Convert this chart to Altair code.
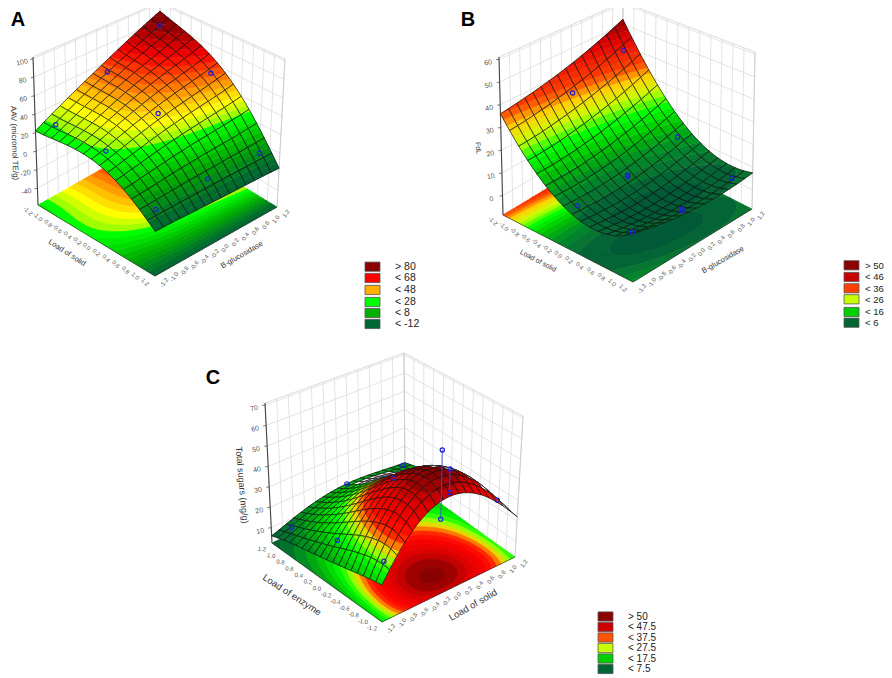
import numpy as np
import altair as alt

# ---------- values ----------
NODES = [-1.2, -0.8, -0.4, 0.0, 0.4, 0.8, 1.2]

# rows: left floor axis ascending, columns: right floor axis ascending
Z_A = [
    [22, 34, 45, 57, 68, 80, 91],
    [24, 33, 45, 55, 64, 74, 83],
    [25, 33, 43, 51, 58, 66, 73],
    [23, 29, 37, 43, 49, 54, 60],
    [15, 19, 24, 28, 31, 35, 39],
    [2, 4, 6, 8, 9.5, 11, 13],
    [-14, -14, -14.5, -15, -15, -15.5, -16],
]
Z_B = [
    [36, 37.5, 39, 41.5, 44.5, 48, 52.5],
    [23, 23.5, 25, 26.5, 29, 32, 36],
    [13.5, 13.5, 14, 15.5, 17.5, 20, 23],
    [7.5, 7, 7, 7.5, 9, 11, 13.5],
    [5, 4, 3.5, 3.5, 4.5, 6, 8],
    [6, 4.5, 3.5, 3, 3.5, 4.5, 6],
    [11, 9, 7.5, 6.5, 6, 6.5, 7.5],
]
Z_C = [
    [18.5, 33, 42, 45.5, 42.5, 34, 22],
    [17, 35, 46.5, 51, 47.5, 38, 23],
    [15, 32, 43, 47.5, 44.5, 35.5, 22],
    [13, 25.5, 34.5, 38.5, 36.5, 30, 20],
    [11, 19.5, 26.5, 29.5, 29, 24, 18],
    [9, 14, 18.5, 20.5, 20, 17.5, 14],
    [6, 9.5, 12.5, 14, 14, 12.5, 11],
]

DOTS_A_L = [-1, -1, -1, 0, 0, 0, 1, 1, 1]
DOTS_A_R = [-1, 0, 1, -1, 0, 1, -1, 0, 1]
DOTS_A_Z = [29, 59.5, 85, 29, 42, 59, -3, 1, 0]

DOTS_B_L = [-1, -1, 0, 0, 0, 0, 1, 1, 1, 1]
DOTS_B_R = [0, 1, -1, 0, 0, 1, -1, 0, 0, 1]
DOTS_B_Z = [33.7, 41.8, 7, 7.3, 8, 12.3, 7, 3.8, 4.6, 5.4]

DOTS_C_L = [1, 1, 1, 0, 0, 0, 0, -1, -1, -1, -1]
DOTS_C_R = [-1, 0, 1, -1, 0, 1, 1, -1, 0, 0, 1]
DOTS_C_Z = [10.7, 19.5, 15.7, 19.5, 37.5, 30, 18, 24, 64, 32, 29.5]
STEMS_C = [(-1, 0, 64, 32), (0, 1, 30, 18)]

LEG_A = ["> 80", "< 68", "< 48", "< 28", "< 8", "< -12"]
LEG_B = ["> 50", "< 46", "< 36", "< 26", "< 16", "< 6"]
LEG_C = ["> 50", "< 47.5", "< 37.5", "< 27.5", "< 17.5", "< 7.5"]
LEG_COL_A = ["#8b0000", "#ff0000", "#ffb000", "#00ff00", "#00b000", "#006633"]
LEG_COL_B = ["#8b0000", "#c80000", "#ff4000", "#c8ff00", "#00d000", "#006633"]
LEG_COL_C = ["#8b0000", "#d00000", "#ff5500", "#c8ff00", "#00d000", "#006633"]

TICKS_FLOOR = [-1.2, -1.0, -0.8, -0.6, -0.4, -0.2, 0.0, 0.2, 0.4, 0.6, 0.8, 1.0, 1.2]

PANELS = [
    dict(letter="A", letter_at=(18, 20), grid=Z_A, left_up=False, zlo=-58, zhi=102, cells=15, edge_on=0,
         F=(155, 276), R=(277, 207), L=(38, 205), B=(160, 136),
         TF=(156, 114), TR=(285, 59), TL=(33, 57), TB=(160, 2),
         zticks=[100, 80, 60, 40, 20, 0, -20, -40],
         stops=[(-12, "#006633"), (8, "#00b000"), (26, "#00ff00"), (30, "#a0ff00"), (38, "#ffff00"), (48, "#ffb000"), (68, "#ff0000"), (84, "#8b0000")],
         band=(-16, 4, 28),
         ztitle=("AAV (micromol TE/g)", 14, 143, 88, 8), ltitle=("Load of solid", 67, 253, 33, 7.5), rtitle=("B-glucosidase", 242, 255, -30, 7.5),
         tsize=6, lang=45, dots=(DOTS_A_L, DOTS_A_R, DOTS_A_Z), stems=[],
         leg=(LEG_A, LEG_COL_A, 365, 380, 395, [266.7, 278, 290, 302, 313, 324], 10.5)),
    dict(letter="B", letter_at=(468, 20), grid=Z_B, left_up=False, zlo=-8.5, zhi=61, cells=15, edge_on=0,
         F=(633, 282), R=(752, 209), L=(503, 215), B=(622, 143),
         TF=(634, 109), TR=(755, 52), TL=(499, 57), TB=(623, 2),
         zticks=[60, 50, 40, 30, 20, 10, 0],
         stops=[(4, "#005a38"), (6, "#0a7035"), (10, "#008a2a"), (16, "#00c800"), (21, "#00ff00"), (26, "#c8ff00"), (31, "#ffd000"), (36, "#ff4000"), (46, "#e00000"), (53, "#8b0000")],
         band=(2, 2, 28),
         ztitle=("FdL", 478, 148, 85, 7), ltitle=("Load of solid", 538, 261, 28, 7), rtitle=("B-glucosidase", 723, 260, -30, 7.5),
         tsize=6, lang=45, dots=(DOTS_B_L, DOTS_B_R, DOTS_B_Z), stems=[],
         leg=(LEG_B, LEG_COL_B, 844, 859, 865, [265.3, 277, 288.3, 299.3, 312, 322.7], 9.5)),
    dict(letter="C", letter_at=(213, 378), grid=Z_C, left_up=True, zlo=2.5, zhi=71, cells=18, edge_on=0.35,
         F=(382, 622), R=(515, 557), L=(272, 543), B=(405, 478),
         TF=(382, 464), TR=(523, 416), TL=(265, 403), TB=(404, 353),
         zticks=[70, 60, 50, 40, 30, 20, 10],
         stops=[(7.5, "#006633"), (17.5, "#00d000"), (22.5, "#00ff00"), (27.5, "#c8ff00"), (30, "#ffb000"), (33, "#ff3000"), (37.5, "#ff0000"), (45, "#d80000"), (50, "#8b0000")],
         band=(0, 2.5, 23),
         ztitle=("Total sugars (mg/g)", 242, 485, 85, 9), ltitle=("Load of enzyme", 292, 595, 33, 9.5), rtitle=("Load of solid", 473, 605, -30, 9.5),
         tsize=6, lang=8, dots=(DOTS_C_L, DOTS_C_R, DOTS_C_Z), stems=STEMS_C,
         leg=(LEG_C, LEG_COL_C, 598, 613, 628, [616.5, 627, 637.5, 648, 658.5, 669], 10)),
]


# ---------- drawing helpers (3-D view -> page) ----------
def hex2rgb(h):
    return np.array([int(h[i:i + 2], 16) for i in (1, 3, 5)], float)


def band_color(stops, z):
    xs = [s[0] for s in stops]
    cols = np.array([hex2rgb(s[1]) for s in stops])
    rgb = [np.interp(z, xs, cols[:, k]) for k in range(3)]
    return "#%02x%02x%02x" % tuple(int(round(v)) for v in rgb)


def view(p, t, w, z):
    zn = (z - p["zlo"]) / (p["zhi"] - p["zlo"])
    F, R, L, B = [np.array(p[k], float) for k in ("F", "R", "L", "B")]
    TF, TR, TL, TB = [np.array(p[k], float) for k in ("TF", "TR", "TL", "TB")]
    bot = (1 - t) * (1 - w) * F + t * (1 - w) * R + (1 - t) * w * L + t * w * B
    top = (1 - t) * (1 - w) * TF + t * (1 - w) * TR + (1 - t) * w * TL + t * w * TB
    return bot * (1 - zn) + top * zn


def tw(p, left, right):
    t = (right + 1.2) / 2.4
    w = (left + 1.2) / 2.4 if p["left_up"] else (1.2 - left) / 2.4
    return t, w


def smooth_grid(p, steps):
    """Drawing mesh through the table values (least-squares tensor polynomial)."""
    nodes = np.array(NODES)
    V = np.polynomial.polynomial.polyvander(nodes, 4)
    P = np.linalg.pinv(V)
    C = P @ np.array(p["grid"], float) @ P.T
    ws = np.linspace(0, 1, steps + 1)
    ts = np.linspace(0, 1, steps + 1)
    lefts = (2 * ws - 1) * 1.2 if p["left_up"] else (1 - 2 * ws) * 1.2
    rights = (2 * ts - 1) * 1.2
    VL = np.polynomial.polynomial.polyvander(lefts, 4)
    VR = np.polynomial.polynomial.polyvander(rights, 4)
    return ts, ws, VL @ C @ VR.T  # index [w, t]


def clip(poly, level, above):
    out = []
    n = len(poly)
    for i in range(n):
        a, b = poly[i], poly[(i + 1) % n]
        ina = a[2] >= level if above else a[2] <= level
        inb = b[2] >= level if above else b[2] <= level
        if ina:
            out.append(a)
        if ina != inb:
            f = (level - a[2]) / (b[2] - a[2])
            out.append((a[0] + f * (b[0] - a[0]), a[1] + f * (b[1] - a[1]), level))
    return out


def split_bands(tri, p, into):
    lo, step, count = p["band"]
    zs = [v[2] for v in tri]
    for k in range(count):
        low = lo + k * step if k > 0 else -1e6
        high = lo + (k + 1) * step if k < count - 1 else 1e6
        if max(zs) < low or min(zs) > high:
            continue
        q = clip(clip(tri, low, True), high, False)
        if len(q) >= 3:
            ring = [[round(float(v[0]), 2), round(float(v[1]), 2)] for v in q]
            ring.append(ring[0])
            into.setdefault(k, []).append([ring])


def band_mid(p, k):
    lo, step, _ = p["band"]
    return lo + (k + 0.5) * step


def feat(geom_type, coords, fill, stroke, sw):
    return {"type": "Feature", "geometry": {"type": geom_type, "coordinates": coords},
            "fillc": fill, "strokec": stroke, "sw": sw}


def line(pts, stroke, sw):
    return feat("LineString", [[round(float(a), 2), round(float(b), 2)] for a, b in pts], "transparent", stroke, sw)


features, texts, dots_rows, top_lines = [], [], [], []

for p in PANELS:
    # walls
    for u in TICKS_FLOOR:
        f = (u + 1.2) / 2.4
        features.append(line([view(p, 1, f, p["zlo"]), view(p, 1, f, p["zhi"])], "#dcdcdc", 0.8))
        features.append(line([view(p, f, 1, p["zlo"]), view(p, f, 1, p["zhi"])], "#dcdcdc", 0.8))
    for z in p["zticks"]:
        features.append(line([view(p, 0, 1, z), view(p, 1, 1, z), view(p, 1, 0, z)], "#dcdcdc", 0.8))
    for a, b in [((0, 1), (1, 1)), ((1, 1), (1, 0))]:
        features.append(line([view(p, a[0], a[1], p["zhi"]), view(p, b[0], b[1], p["zhi"])], "#d0d0d0", 0.8))
    features.append(line([view(p, 1, 1, p["zlo"]), view(p, 1, 1, p["zhi"])], "#c8c8c8", 0.8))
    features.append(line([view(p, 1, 0, p["zlo"]), view(p, 1, 0, p["zhi"])], "#c8c8c8", 0.8))

    # floor contour
    ts, ws, Zf = smooth_grid(p, 44)
    bands = {}
    for i in range(len(ws) - 1):
        for j in range(len(ts) - 1):
            c = [(i, j), (i + 1, j), (i + 1, j + 1), (i, j + 1)]
            v = []
            for a, b in c:
                xy = view(p, ts[b], ws[a], p["zlo"])
                v.append((xy[0], xy[1], Zf[a, b]))
            split_bands([v[0], v[1], v[2]], p, bands)
            split_bands([v[0], v[2], v[3]], p, bands)
    for k, polys in sorted(bands.items()):
        col = band_color(p["stops"], band_mid(p, k))
        features.append(feat("MultiPolygon", polys, col, col, 0.5))

    # floor edges and z axis
    features.append(line([view(p, 0, 1, p["zlo"]), view(p, 0, 0, p["zlo"]), view(p, 1, 0, p["zlo"])], "#333333", 0.7))
    features.append(line([view(p, 0, 1, p["zlo"]), view(p, 0, 1, p["zhi"])], "#444444", 1.1))
    for z in p["zticks"]:
        q = view(p, 0, 1, z)
        features.append(line([q, q + np.array([-3, 0.5])], "#444444", 0.7))
        texts.append(dict(lon=float(q[0] - 11), lat=float(q[1] + 3.5), txt=str(z), ang=-12, size=7, col="#555555", wt="normal"))

    # floor tick labels
    for u in TICKS_FLOOR:
        f = (u + 1.2) / 2.4
        lab = "%.1f" % u
        q = view(p, f, 0, p["zlo"])
        texts.append(dict(lon=float(q[0] + 9), lat=float(q[1] + 6.5), txt=lab, ang=-55, size=p["tsize"], col="#555555", wt="normal"))
        w = f if p["left_up"] else 1 - f
        q = view(p, 0, w, p["zlo"])
        texts.append(dict(lon=float(q[0] - 10), lat=float(q[1] + 6), txt=lab, ang=p["lang"], size=p["tsize"], col="#555555", wt="normal"))

    for tit in (p["ztitle"], p["ltitle"], p["rtitle"]):
        texts.append(dict(lon=tit[1], lat=tit[2], txt=tit[0], ang=tit[3], size=tit[4], col="#333333", wt="normal"))
    texts.append(dict(lon=p["letter_at"][0], lat=p["letter_at"][1], txt=p["letter"], ang=0, size=20, col="#000000", wt="bold"))

    # surface, far cells first
    n = p["cells"]
    sub = 2
    ts, ws, Z = smooth_grid(p, n * sub)
    PX = np.zeros(Z.shape + (2,))
    for a in range(Z.shape[0]):
        for b in range(Z.shape[1]):
            PX[a, b] = view(p, ts[b], ws[a], Z[a, b])
    floor_v = np.array(p["L"], float) - np.array(p["R"], float)
    floor_w = np.array(p["B"], float) - np.array(p["F"], float)
    ref_cross = floor_v[0] * floor_w[1] - floor_v[1] * floor_w[0]
    ref_sign = np.sign(ref_cross)
    order = sorted(((i, j) for i in range(n) for j in range(n)), key=lambda c: -(c[0] + c[1]))
    for i, j in order:
        a0, a1, b0, b1 = i * sub, (i + 1) * sub, j * sub, (j + 1) * sub
        A, Bq, C, D = PX[a0, b0], PX[a0, b1], PX[a1, b1], PX[a1, b0]
        d1, d2 = D - Bq, C - A
        area = d1[0] * d2[1] - d1[1] * d2[0]
        rel = area * ref_sign / (abs(ref_cross) / n ** 2)
        under = rel <= 0 or (rel < p["edge_on"] and j / n > 0.55)
        ring_idx = ([(a0, b) for b in range(b0, b1 + 1)] + [(a, b1) for a in range(a0 + 1, a1 + 1)]
                    + [(a1, b) for b in range(b1 - 1, b0 - 1, -1)] + [(a, b0) for a in range(a1 - 1, a0, -1)])
        outline = [[round(float(PX[a, b][0]), 2), round(float(PX[a, b][1]), 2)] for a, b in ring_idx]
        outline.append(outline[0])
        if under:
            features.append(feat("Polygon", [outline], "#ffffff", "#111111", 0.7))
            continue
        cellb = {}
        for a in range(a0, a1):
            for b in range(b0, b1):
                v = [(PX[x, y][0], PX[x, y][1], Z[x, y]) for x, y in [(a, b), (a + 1, b), (a + 1, b + 1), (a, b + 1)]]
                split_bands([v[0], v[1], v[2]], p, cellb)
                split_bands([v[0], v[2], v[3]], p, cellb)
        for k, polys in sorted(cellb.items()):
            col = band_color(p["stops"], band_mid(p, k))
            features.append(feat("MultiPolygon", polys, col, col, 0.35))
        features.append(feat("Polygon", [outline], "transparent", "#111111", 0.7))

    # design points and stems
    for r, c, z in zip(*p["dots"]):
        t, w = tw(p, r, c)
        q = view(p, t, w, z)
        dots_rows.append(dict(lon=float(q[0]), lat=float(q[1])))
    for r, c, z1, z2 in p["stems"]:
        t, w = tw(p, r, c)
        top_lines.append(line([view(p, t, w, z1), view(p, t, w, z2)], "#4a4ae0", 0.9))

    # legend
    labs, cols, x0, x1, xt, ys, lsize = p["leg"]
    for lab, col, y in zip(labs, cols, ys):
        ring = [[x0, y - 4.6], [x1, y - 4.6], [x1, y + 4.6], [x0, y + 4.6], [x0, y - 4.6]]
        top_lines.append(feat("Polygon", [ring], col, "#555555", 0.8))
        texts.append(dict(lon=xt, lat=y + 0.3, txt=lab, ang=0, size=lsize, col="#222222", wt="normal", al="left"))

PROJ = dict(type="identity", scale=1, translate=[-8, -8])


def shapes(rows):
    return (alt.Chart(alt.Data(values=rows)).mark_geoshape().encode(
        fill=alt.Fill("fillc:N", scale=None),
        stroke=alt.Stroke("strokec:N", scale=None),
        strokeWidth=alt.StrokeWidth("sw:Q", scale=None),
    ).project(**PROJ))


def words(rows, align, bold):
    return (alt.Chart(alt.Data(values=rows)).mark_text(
        font="Liberation Sans", align=align, baseline="middle", fontWeight="bold" if bold else "normal"
    ).encode(
        longitude="lon:Q", latitude="lat:Q", text="txt:N",
        angle=alt.Angle("ang:Q", scale=None),
        size=alt.Size("size:Q", scale=None),
        color=alt.Color("col:N", scale=None),
    ).project(**PROJ))


center_txt = [t for t in texts if t.get("al") != "left" and t["wt"] != "bold"]
left_txt = [t for t in texts if t.get("al") == "left"]
bold_txt = [t for t in texts if t["wt"] == "bold"]

dots = (alt.Chart(alt.Data(values=dots_rows)).mark_point(
    filled=False, color="#2020d8", size=18, strokeWidth=1.2, opacity=1
).encode(longitude="lon:Q", latitude="lat:Q").project(**PROJ))

chart = alt.layer(
    shapes(features), shapes(top_lines), dots,
    words(center_txt, "center", False), words(left_txt, "left", False), words(bold_txt, "center", True),
).properties(
    width=876, height=668, padding=0, autosize=alt.AutoSizeParams(type="none"), background="white"
).configure_view(stroke=None)

chart.save("out.html", embed_options={"renderer": "svg", "actions": False})
